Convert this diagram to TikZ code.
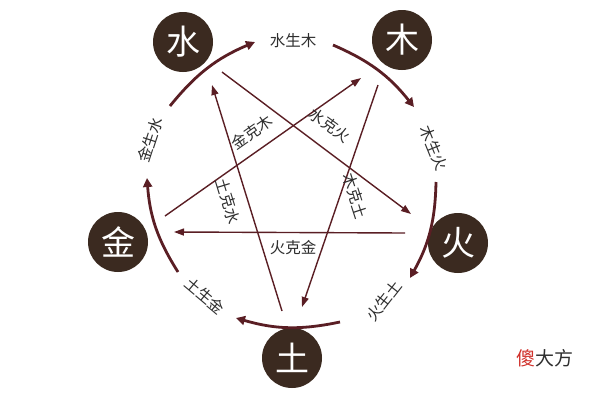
\documentclass[tikz,border=0pt]{standalone}
\usepackage{fontspec}
\setmainfont{Noto Sans CJK SC}
\usetikzlibrary{arrows.meta}
\definecolor{elem}{HTML}{3B2A20}
\definecolor{arr}{HTML}{5A1E24}
\definecolor{txt}{HTML}{2E2E2E}
\definecolor{wm}{HTML}{D0302A}
\begin{document}
\begin{tikzpicture}[x=1pt,y=-1pt,
  el/.style={circle,fill=elem,minimum size=60pt,inner sep=0,text=white,font=\fontsize{34}{34}\selectfont},
  gen/.style={arr,line width=2.8pt,-{Triangle[length=9pt,width=9pt]},bend left=14},
  ke/.style={arr,line width=1.4pt,-{Triangle[length=10pt,width=7pt]}},
  lb/.style={text=txt,font=\fontsize{15.5}{15.5}\selectfont,inner sep=0.5pt},
  pt/.style={inner sep=0,minimum size=0}]
\useasboundingbox (0,0) rectangle (600,400);
\fill[white] (0,0) rectangle (600,400);
\node[el] (shui) at (183,42) {水};
\node[el] (mu) at (402,40) {木};
\node[el] (huo) at (458,243) {火};
\node[el] (tu) at (292,358) {土};
\node[el] (jin) at (118,242) {金};
% generating arcs
\coordinate (a1s) at (170,106); \coordinate (a1e) at (255,42);
\coordinate (a2s) at (333,45); \coordinate (a2e) at (414,107);
\coordinate (a3s) at (436,182); \coordinate (a3e) at (410,278);
\coordinate (a4s) at (340,322); \coordinate (a4e) at (236,318);
\coordinate (a5s) at (178,272); \coordinate (a5e) at (147,178);
\draw[gen] (a1s) to (a1e);
\draw[gen] (a2s) to (a2e);
\draw[gen] (a3s) to (a3e);
\draw[gen] (a4s) to (a4e);
\draw[gen] (a5s) to (a5e);
\node[lb] (l1) at (293,41) {水生木};
\node[lb,rotate=-68] (l2) at (434,148) {木生火};
\node[lb,rotate=52] (l3) at (384,301) {火生土};
\node[lb,rotate=-40] (l4) at (205,296) {土生金};
\node[lb,rotate=72] (l5) at (150,140) {金生水};
% controlling lines
\coordinate (k1s) at (222,72); \coordinate (k1e) at (411,214);
\coordinate (k2s) at (165,216); \coordinate (k2e) at (361,78);
\coordinate (k3s) at (378,85); \coordinate (k3e) at (302,307);
\coordinate (k4s) at (405,233); \coordinate (k4e) at (174,232);
\coordinate (k5s) at (282,311); \coordinate (k5e) at (212,85);
\draw[ke] (k1s) -- (k1e);
\draw[ke] (k2s) -- (k2e);
\draw[ke] (k3s) -- (k3e);
\draw[ke] (k4s) -- (k4e);
\draw[ke] (k5s) -- (k5e);
\node[lb,rotate=35] (m1) at (252,132) {金克木};
\node[lb,rotate=-36] (m2) at (330,125) {水克火};
\node[lb,rotate=-73] (m3) at (228,201) {土克水};
\node[lb,rotate=-72] (m4) at (355,196) {木克土};
\node[lb] (m5) at (293,248) {火克金};
\node[inner sep=0,font=\fontsize{19}{19}\selectfont] (wmk) at (545,358) {\textcolor{wm}{傻}\textcolor{txt}{大方}};
\end{tikzpicture}
\end{document}
